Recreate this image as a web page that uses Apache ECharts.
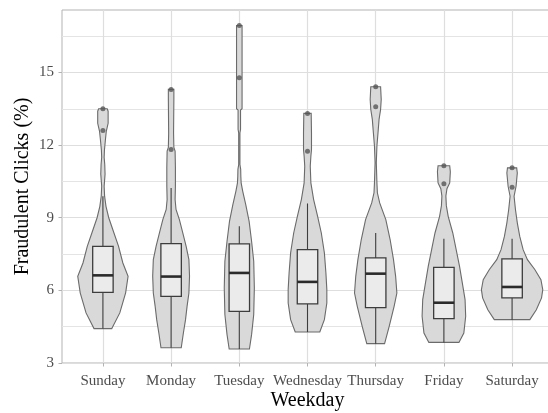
<!DOCTYPE html>
<html><head><meta charset="utf-8">
<script src="https://cdn.jsdelivr.net/npm/echarts@6/dist/echarts.min.js"></script>
<style>html,body{margin:0;padding:0;background:#fff}#c{width:548px;height:413px}</style>
</head><body><div id="c"></div>
<script>
// ---- data ----
const days = ['Sunday', 'Monday', 'Tuesday', 'Wednesday', 'Thursday', 'Friday', 'Saturday'];

// violin profiles: [value (%), relative density]
const violinSunday = [[4.42,0.29],[5.07,0.55],[5.9,0.74],[6.58,0.82],[7.13,0.65],[7.82,0.51],[8.37,0.36],[9.0,0.19],[9.47,0.10],[9.89,0.055],[10.3,0.04],[10.8,0.07],[11.2,0.06],[11.5,0.04],[11.8,0.05],[12.2,0.08],[12.57,0.11],[12.9,0.17],[13.4,0.17],[13.5,0.14]];
const violinMonday = [[3.63,0.33],[4.24,0.40],[4.79,0.47],[5.34,0.52],[5.89,0.58],[6.58,0.60],[7.27,0.58],[7.82,0.49],[8.37,0.38],[8.92,0.27],[9.34,0.16],[9.75,0.13],[10.3,0.14],[11.1,0.14],[11.75,0.13],[11.9,0.09],[12.5,0.08],[13.9,0.09],[14.3,0.09]];
const violinTuesday = [[3.58,0.33],[4.17,0.40],[5.0,0.47],[6.1,0.49],[7.2,0.47],[8.03,0.40],[8.85,0.32],[9.54,0.21],[10.1,0.11],[10.44,0.06],[10.7,0.05],[11.0,0.045],[11.2,0.02],[12.5,0.02],[12.65,0.04],[13.45,0.04],[13.5,0.09],[16.94,0.09]];
const violinWednesday = [[4.28,0.40],[4.79,0.55],[5.48,0.63],[6.03,0.63],[6.72,0.60],[7.55,0.55],[8.37,0.45],[9.06,0.33],[9.75,0.20],[10.44,0.11],[11.13,0.09],[11.54,0.11],[11.82,0.13],[12.5,0.13],[13.31,0.12]];
const violinThursday = [[3.8,0.29],[4.51,0.44],[5.34,0.60],[5.89,0.69],[6.58,0.65],[7.27,0.58],[8.1,0.47],[8.92,0.33],[9.61,0.13],[10.03,0.055],[10.44,0.04],[11.27,0.02],[11.96,0.04],[12.5,0.075],[13.06,0.11],[13.47,0.16],[13.88,0.18],[14.41,0.16]];
const violinFriday = [[3.85,0.49],[4.24,0.65],[4.93,0.71],[5.62,0.69],[6.31,0.60],[6.99,0.51],[7.68,0.40],[8.37,0.29],[9.06,0.14],[9.5,0.08],[9.9,0.065],[10.2,0.10],[10.44,0.19],[10.9,0.21],[11.15,0.19]];
const violinSaturday = [[4.79,0.58],[5.2,0.79],[5.69,0.96],[6.03,1.0],[6.44,0.94],[6.86,0.74],[7.27,0.50],[7.68,0.36],[8.23,0.25],[8.79,0.17],[9.34,0.11],[9.89,0.065],[10.3,0.13],[10.85,0.17],[11.06,0.15]];
const violins = [violinSunday, violinMonday, violinTuesday, violinWednesday, violinThursday, violinFriday, violinSaturday];

// box plot statistics
const whiskerLow  = [4.42, 3.63, 3.58, 4.28, 3.80, 3.85, 4.79];
const q1          = [5.92, 5.75, 5.13, 5.44, 5.29, 4.83, 5.69];
const median      = [6.62, 6.57, 6.72, 6.35, 6.69, 5.49, 6.14];
const q3          = [7.82, 7.93, 7.92, 7.68, 7.34, 6.95, 7.30];
const whiskerHigh = [9.89, 10.23, 8.65, 9.59, 8.37, 8.13, 8.13];
const outliers = [[12.6, 13.5], [11.82, 14.3], [14.78, 16.94], [11.75, 13.31], [13.58, 14.41], [10.4, 11.15], [10.26, 11.06]];

const yTicks = [3, 6, 9, 12, 15];
const xTicks = [1, 2, 3, 4, 5, 6, 7];

// ---- drawing ----
const VIOLIN_HALF = 0.45;
const BOX_HALF = 0.15;
const FONT = 'Liberation Serif';

const chart = echarts.init(document.getElementById('c'), null, { renderer: 'canvas' });

function violinItem(params, api) {
  const i = params.dataIndex;
  const x = api.value(0);
  const prof = violins[i];
  const right = prof.map(p => api.coord([x + p[1] * VIOLIN_HALF, p[0]]));
  const left = prof.slice().reverse().map(p => api.coord([x - p[1] * VIOLIN_HALF, p[0]]));
  return {
    type: 'polygon',
    shape: { points: right.concat(left) },
    style: { fill: '#d9d9d9', stroke: '#6b6b6b', lineWidth: 1.1 }
  };
}

function boxItem(params, api) {
  const i = params.dataIndex;
  const x = api.value(0);
  const lo = api.coord([x, whiskerLow[i]]);
  const hi = api.coord([x, whiskerHigh[i]]);
  const a = api.coord([x, q1[i]]);
  const b = api.coord([x, q3[i]]);
  const tl = api.coord([x - BOX_HALF, q3[i]]);
  const br = api.coord([x + BOX_HALF, q1[i]]);
  const ml = api.coord([x - BOX_HALF, median[i]]);
  const mr = api.coord([x + BOX_HALF, median[i]]);
  const ws = { stroke: '#3d3d3d', lineWidth: 1.1 };
  return {
    type: 'group',
    children: [
      { type: 'line', shape: { x1: lo[0], y1: lo[1], x2: a[0], y2: a[1] }, style: ws },
      { type: 'line', shape: { x1: b[0], y1: b[1], x2: hi[0], y2: hi[1] }, style: ws },
      { type: 'rect', shape: { x: tl[0], y: tl[1], width: br[0] - tl[0], height: br[1] - tl[1] },
        style: { fill: '#ebebeb', stroke: '#3d3d3d', lineWidth: 1.3 } },
      { type: 'line', shape: { x1: ml[0], y1: ml[1], x2: mr[0], y2: mr[1] },
        style: { stroke: '#2b2b2b', lineWidth: 2.6 } }
    ]
  };
}

const baseData = days.map((d, i) => [i + 1, median[i]]);
const outlierData = [];
outliers.forEach((arr, i) => arr.forEach(v => outlierData.push([i + 1, v])));

chart.setOption({
  animation: false,
  grid: { left: 62, right: -5, top: 10, bottom: 50, outerBoundsMode: 'none', containLabel: false,
    show: true, borderColor: '#b3b3b3', borderWidth: 1, backgroundColor: 'transparent' },
  xAxis: {
    type: 'value', min: 0.4, max: 7.6,
    name: 'Weekday', nameLocation: 'middle', nameGap: 28, nameMoveOverlap: false,
    nameTextStyle: { fontFamily: FONT, fontSize: 20, color: '#000' },
    axisLine: { show: false },
    axisTick: { show: true, customValues: xTicks, length: 3.5, lineStyle: { color: '#b3b3b3' } },
    axisLabel: { customValues: xTicks, formatter: v => days[Math.round(v) - 1], fontFamily: FONT, fontSize: 15, color: '#4d4d4d', margin: 11 },
    splitLine: { show: true, lineStyle: { color: '#dedede', width: 1.2 } }
  },
  yAxis: {
    type: 'value', min: 3, max: 17.58, interval: 3,
    name: 'Fraudulent Clicks (%)', nameLocation: 'middle', nameGap: 29, nameMoveOverlap: false,
    nameTextStyle: { fontFamily: FONT, fontSize: 20, color: '#000' },
    axisLine: { show: false },
    axisTick: { show: true, customValues: yTicks, length: 3.5, lineStyle: { color: '#b3b3b3' } },
    axisLabel: { customValues: yTicks, fontFamily: FONT, fontSize: 15, color: '#4d4d4d', margin: 8 },
    splitLine: { show: true, lineStyle: { color: '#dedede', width: 1.2 } },
    minorTick: { show: false, splitNumber: 2 },
    minorSplitLine: { show: true, lineStyle: { color: '#e4e4e4', width: 1 } }
  },
  series: [
    { type: 'custom', renderItem: violinItem, data: baseData, encode: { x: 0, y: 1 }, silent: true },
    { type: 'custom', renderItem: boxItem, data: baseData, encode: { x: 0, y: 1 }, silent: true },
    { type: 'scatter', data: outlierData, symbol: 'circle', symbolSize: 5,
      itemStyle: { color: '#555555', borderWidth: 0 }, silent: true }
  ]
});
</script></body></html>
